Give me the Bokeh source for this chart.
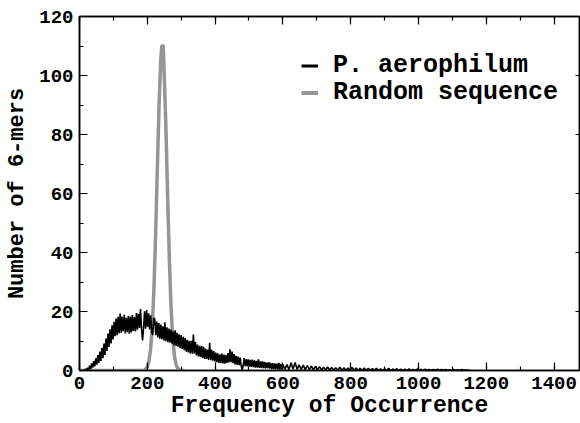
from bokeh.plotting import figure
from bokeh.models import (Legend, LegendItem, LinearAxis, Range1d,
                          SingleIntervalTicker, CustomJSTickFormatter)
from bokeh.embed import file_html
from bokeh.resources import INLINE

# ---- data ----
# P. aerophilum: number of 6-mers per frequency of occurrence
freq_fine = list(range(0, 600, 3))
aero_fine = [
    0, 0, 0, 0, 0, 0, 0.5, 0.1, 0.9, 0.3,
    1.6, 0.5, 2.4, 1.0, 3.2, 1.4, 4.1, 2.0, 5.2, 2.6,
    6.4, 3.2, 7.6, 4.2, 9.1, 5.3, 10.8, 6.6, 12.5, 8.0,
    14.0, 9.2, 15.3, 10.5, 16.5, 11.6, 17.6, 12.0, 18.2, 12.6,
    19.3, 12.8, 18.2, 13.3, 18.9, 12.6, 17.9, 13.0, 18.5, 12.5,
    18.3, 12.9, 18.8, 13.4, 18.1, 13.2, 19.5, 13.8, 19.2, 14.4,
    20.8, 14.0, 10.2, 14.6, 20.1, 14.2, 20.5, 14.8, 19.4, 13.9,
    18.7, 13.0, 12.0, 17.8, 17.4, 12.0, 16.6, 11.2, 16.1, 10.8,
    15.6, 10.6, 15.0, 10.2, 16.3, 9.9, 14.6, 9.6, 14.2, 9.4,
    13.9, 9.1, 13.3, 8.6, 13.6, 8.3, 12.8, 8.1, 12.3, 7.6,
    12.0, 7.3, 11.4, 6.9, 11.0, 6.4, 10.4, 6.1, 10.1, 5.8,
    10.1, 5.7, 12.2, 5.7, 9.6, 5.1, 8.8, 4.8, 8.4, 4.6,
    8.3, 4.3, 8.0, 3.9, 7.4, 3.9, 7.1, 3.6, 9.4, 3.5,
    7.0, 3.3, 6.6, 3.0, 6.1, 2.8, 5.8, 2.6, 5.5, 2.5,
    5.7, 2.4, 5.4, 2.3, 5.2, 2.6, 5.9, 2.7, 7.2, 2.8,
    6.4, 2.5, 5.6, 2.1, 5.0, 1.9, 4.7, 1.8, 4.4, 1.6,
    0.2, 1.7, 4.2, 1.5, 3.9, 1.4, 3.8, 1.3, 3.6, 1.2,
    3.7, 1.1, 3.4, 1.0, 3.3, 1.0, 3.8, 0.9, 3.1, 0.8,
    3.1, 0.8, 2.9, 0.7, 2.7, 0.8, 2.8, 0.6, 2.6, 0.5,
    2.5, 0.5, 2.4, 0.4, 2.3, 0.4, 2.6, 0.3, 2.2, 0.4,
]
freq_coarse = list(range(600, 1153, 6))
aero_coarse = [
    2.1, 0.4, 2.0, 0.3, 2.6, 0.5, 2.7, 0.4, 1.9, 0.3,
    1.8, 0.3, 1.7, 0.3, 1.5, 0.2, 1.4, 0.2, 1.3, 0.2,
    1.1, 0.2, 1.2, 0.1, 1.0, 0.2, 0.9, 0.1, 1.1, 0.1,
    0.9, 0.1, 0.8, 0.1, 1.0, 0.0, 0.8, 0.1, 0.7, 0.0,
    0.8, 0.0, 0.7, 0.1, 0.6, 0.1, 0.7, 0.0, 0.6, 0.0,
    0.6, 0.0, 0.7, 0.0, 0.5, 0.1, 0.6, 0.0, 0.5, 0.0,
    0.5, 0.0, 0.6, 0.0, 0.4, 0.0, 0.5, 0.1, 0.4, 0.0,
    0.5, 0.0, 0.4, 0.0, 0.4, 0.0, 0.5, 0.0, 0.4, 0.0,
    0.4, 0.0, 0.3, 0.0, 0.4, 0.0, 0.3, 0.0, 0.4, 0.0,
    0.3, 0.0, 0.2,
]
aero_x = freq_fine + freq_coarse
aero_y = aero_fine + aero_coarse

# Random sequence
rand_x = [0, 190, 195, 200, 205, 210, 215, 220, 225, 230, 235, 240, 243, 245,
          247, 250, 255, 260, 265, 270, 275, 280, 285, 290, 295, 300, 310]
rand_y = [0, 0, 0.5, 1.2, 3.2, 7.5, 15.5, 29, 48, 70, 91, 106, 110, 108.5,
          110, 100, 82, 59, 38, 21.5, 11, 5, 2, 0.7, 0.2, 0, 0]

labels = ["P. aerophilum", "Random sequence"]
x_major = 200
y_major = 20
x_end = 1475
y_end = 120

FONT = "Liberation Mono"
GRAY = "#959595"

p = figure(width=580, height=421,
           x_range=Range1d(0, x_end), y_range=Range1d(0, y_end),
           output_backend="svg", toolbar_location=None,
           min_border_left=79, min_border_right=1,
           min_border_top=16, min_border_bottom=51)
p.grid.visible = False
p.outline_line_color = "black"
p.outline_line_width = 1.5
p.background_fill_color = "white"
p.border_fill_color = "white"

p.line(rand_x, rand_y, line_color=GRAY, line_width=3.5, line_join="round")
p.line(aero_x, aero_y, line_color="black", line_width=1.6)

blank = CustomJSTickFormatter(code="return ''")

def style_axis(ax, ticker, labels=True, minor=4, major=8, title_size="22px"):
    ax.ticker = ticker
    ax.major_tick_in = major
    ax.major_tick_out = 0
    ax.minor_tick_in = minor
    ax.minor_tick_out = 0
    ax.axis_line_color = "black"
    ax.axis_line_width = 1.5
    ax.major_tick_line_width = 1.2
    ax.minor_tick_line_width = 1.2
    if labels:
        ax.major_label_text_font = FONT
        ax.major_label_text_font_style = "bold"
        ax.major_label_text_font_size = "19px"
        ax.major_label_text_color = "black"
        ax.axis_label_text_font = FONT
        ax.axis_label_text_font_style = "bold"
        ax.axis_label_text_font_size = title_size
        ax.axis_label_text_color = "black"
    else:
        ax.formatter = blank
        ax.major_label_text_font_size = "1px"
        ax.major_label_standoff = 0

xax = p.xaxis[0]
style_axis(xax, SingleIntervalTicker(interval=x_major, num_minor_ticks=2), title_size="23px")
xax.axis_label = "Frequency of Occurrence"
xax.major_label_standoff = 6
xax.axis_label_standoff = 1

yax = p.yaxis[0]
style_axis(yax, SingleIntervalTicker(interval=y_major, num_minor_ticks=2), title_size="22px")
yax.axis_label = "Number of 6-mers"
yax.major_label_standoff = 6
yax.axis_label_standoff = 6

top = LinearAxis()
style_axis(top, SingleIntervalTicker(interval=x_major, num_minor_ticks=2), labels=False)
p.add_layout(top, "above")

right = LinearAxis()
style_axis(right, SingleIntervalTicker(interval=y_major, num_minor_ticks=0), labels=False, minor=0, major=4)
p.add_layout(right, "right")

# legend: two one-item legends so that each row sits where the reference has it
la = p.line([-200, -100], [-10, -10], line_color="black", line_width=3)
lb = p.line([-200, -100], [-10, -10], line_color=GRAY, line_width=4)

def make_legend(label, r, loc):
    lg = Legend(items=[LegendItem(label=label, renderers=[r])], location=loc)
    lg.label_text_font = FONT
    lg.label_text_font_style = "bold"
    lg.label_text_font_size = "25px"
    lg.label_text_color = "black"
    lg.glyph_width = 17
    lg.label_standoff = 15
    lg.padding = 0
    lg.margin = 0
    lg.spacing = 0
    lg.label_height = 27
    lg.glyph_height = 27
    lg.border_line_color = None
    lg.background_fill_alpha = 0
    p.add_layout(lg, "center")

make_legend(labels[0], la, (222, 290))
make_legend(labels[1], lb, (222, 263))

open("out.html", "w").write(file_html(p, INLINE))
